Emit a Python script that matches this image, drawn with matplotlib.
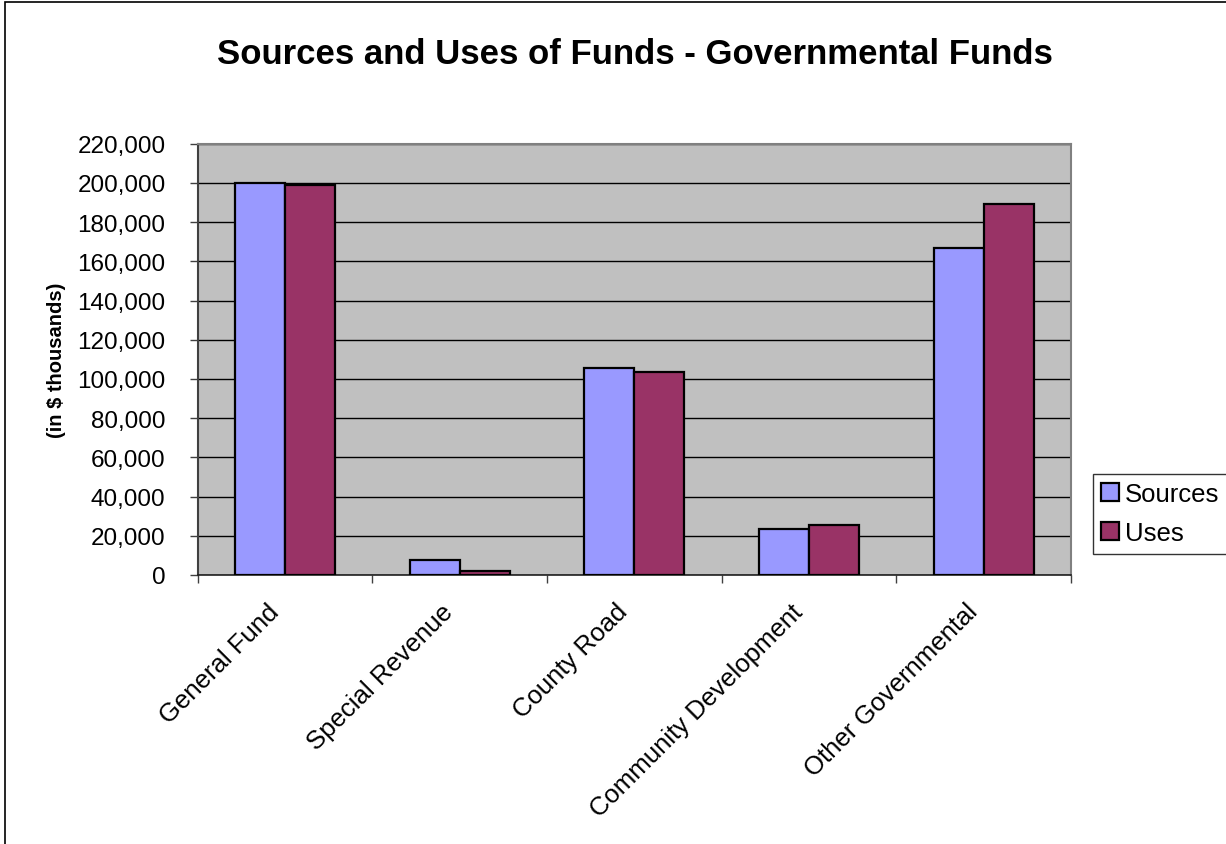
import matplotlib
matplotlib.use("Agg")
import matplotlib.pyplot as plt
import matplotlib.transforms as mtransforms
import numpy as np
from matplotlib.patches import Rectangle
from matplotlib.ticker import FuncFormatter, MultipleLocator, FixedLocator

plt.rcParams['font.family'] = ['Liberation Sans', 'DejaVu Sans']

categories = ["General Fund", "Special Revenue", "County Road", "Community Development", "Other Governmental"]
sources = [200000, 7500, 105800, 23500, 166700]
uses = [199100, 1900, 103700, 25500, 189400]
series_names = ["Sources", "Uses"]
colors = ["#9999FF", "#993366"]

W, H = 1226, 845
fig = plt.figure(figsize=(W / 100, H / 100), dpi=100)
ax = fig.add_axes([197.5 / W, 1 - 576 / H, (1071 - 197.5) / W, (576 - 144.7) / H])

x = np.arange(len(categories))
bw = 0.286
ax.bar(x - bw / 2, sources, bw, color=colors[0], edgecolor="black", linewidth=1.6, label=series_names[0], zorder=3)
ax.bar(x + bw / 2, uses, bw, color=colors[1], edgecolor="black", linewidth=1.6, label=series_names[1], zorder=3)

ax.set_xlim(-0.5, len(categories) - 0.5)
ax.set_ylim(0, 220000)
ax.set_facecolor("#C0C0C0")
ax.yaxis.set_major_locator(MultipleLocator(20000))
ax.yaxis.set_major_formatter(FuncFormatter(lambda v, p: f"{int(v):,}"))
ax.grid(axis="y", color="black", linewidth=1, zorder=1)
ax.set_axisbelow(True)

ax.set_xticks(x)
ax.set_xticklabels(categories, rotation=45, ha="right", va="center", rotation_mode="anchor", fontsize=18.5)
ax.tick_params(axis="x", which="major", length=0, pad=22)
ax.xaxis.set_minor_locator(FixedLocator(np.arange(-0.5, len(categories), 1.0)))
ax.tick_params(axis="x", which="minor", length=6, width=1, color="#404040", direction="out")
ax.tick_params(axis="y", length=6, width=1, color="#404040", direction="out", labelsize=17.5, pad=17)
offset = mtransforms.ScaledTranslation(-10 / 100, -2 / 100, fig.dpi_scale_trans)
for lbl in ax.get_xticklabels():
    lbl.set_transform(lbl.get_transform() + offset)

for s in ["top", "right"]:
    ax.spines[s].set_color("#808080")
    ax.spines[s].set_linewidth(1.5)
ax.spines["left"].set_color("#404040")
ax.spines["left"].set_linewidth(1.5)
ax.spines["bottom"].set_color("#202020")
ax.spines["bottom"].set_linewidth(1.2)

ax.set_ylabel("(in $ thousands)", fontsize=14.5, fontweight="bold", labelpad=8)

fig.text(635 / W, 1 - 55 / H, "Sources and Uses of Funds - Governmental Funds",
         ha="center", va="center", fontsize=25, fontweight="bold")

leg = fig.legend(loc="upper left", bbox_to_anchor=(1093 / W, 1 - 475 / H), fontsize=18.5,
                 frameon=True, fancybox=False, edgecolor="black", handlelength=0.7,
                 handleheight=0.7, handletextpad=0.2, borderpad=0.33, labelspacing=0.58,
                 borderaxespad=0)
leg.get_frame().set_linewidth(1)

fig.patches.append(Rectangle((5 / W, -0.01), 1.05, 1 - 3 / H + 0.01, transform=fig.transFigure,
                             fill=False, edgecolor="black", linewidth=1.2))

fig.savefig("out.png", dpi=100)
